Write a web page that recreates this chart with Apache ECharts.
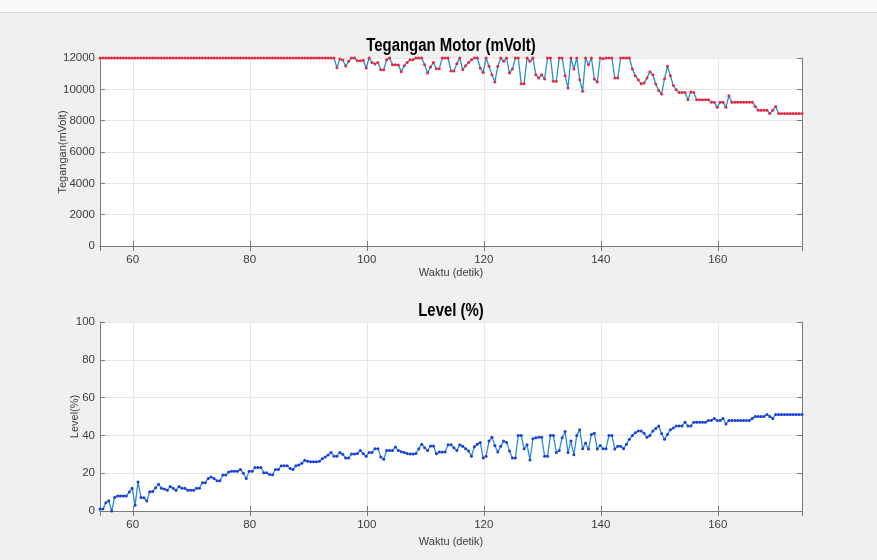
<!DOCTYPE html>
<html>
<head>
<meta charset="utf-8">
<script src="https://cdn.jsdelivr.net/npm/echarts@6/dist/echarts.min.js"></script>
<style>
  html, body { margin: 0; padding: 0; background: #f0f0f0; }
  #chartDiv { width: 877px; height: 560px; }
</style>
</head>
<body>
<div id="chartDiv"></div>
<script>
// sampling: one reading every 0.5 s
const startTime = 54.4;
const stepTime = 0.5;

// Tegangan Motor (mVolt)
const teganganData = [
    12000, 12000, 12000, 12000, 12000, 12000, 12000, 12000, 12000, 12000,
    12000, 12000, 12000, 12000, 12000, 12000, 12000, 12000, 12000, 12000,
    12000, 12000, 12000, 12000, 12000, 12000, 12000, 12000, 12000, 12000,
    12000, 12000, 12000, 12000, 12000, 12000, 12000, 12000, 12000, 12000,
    12000, 12000, 12000, 12000, 12000, 12000, 12000, 12000, 12000, 12000,
    12000, 12000, 12000, 12000, 12000, 12000, 12000, 12000, 12000, 12000,
    12000, 12000, 12000, 12000, 12000, 12000, 12000, 12000, 12000, 12000,
    12000, 12000, 12000, 12000, 12000, 12000, 12000, 12000, 12000, 12000,
    12000, 11380, 11940, 11870, 11490, 11790, 12000, 12000, 11830, 11830,
    11850, 11360, 12000, 11720, 11620, 11720, 11250, 11250, 11890, 12000,
    11570, 11570, 11550, 11130, 11510, 11720, 11890, 11890, 12000, 12000,
    12000, 11570, 11040, 11420, 11720, 11320, 11320, 12000, 12000, 12000,
    11170, 11170, 11640, 12000, 11250, 11510, 11720, 11890, 12000, 12000,
    11360, 11080, 12000, 11470, 10930, 10470, 11470, 12000, 11790, 12000,
    11040, 11300, 12000, 12000, 10360, 10360, 12000, 11790, 12000, 10930,
    10720, 10930, 10660, 12000, 12000, 10510, 10510, 12000, 12000, 10870,
    10080, 12000, 11300, 12000, 10610, 9870, 12000, 11570, 12000, 10660,
    10470, 12000, 11960, 12000, 12000, 12000, 10720, 10720, 12000, 12000,
    12000, 12000, 11300, 10870, 10610, 10360, 10400, 10720, 11130, 10930,
    10340, 9930, 9700, 10680, 11470, 10870, 10250, 9970, 9790, 9800,
    9800, 9340, 9830, 9800, 9340, 9340, 9340, 9340, 9340, 9180,
    9180, 8850, 9180, 9180, 8850, 9590, 9180, 9180, 9180, 9180,
    9180, 9180, 9180, 9180, 8910, 8670, 8670, 8670, 8670, 8450,
    8670, 8910, 8450, 8450, 8450, 8450, 8450, 8450, 8450, 8450,
    8450
];

// Level (%)
const levelData = [
    1, 1, 4.4, 5.4, 0, 7.2, 8, 8, 8, 8,
    10, 12, 3, 15.4, 7.2, 7, 5.3, 10.2, 10.3, 12.3,
    14.2, 12.1, 11.6, 11, 13, 12, 11, 13, 12, 12,
    11, 11, 11, 12, 12, 15, 15, 17.2, 18, 17.2,
    16, 16, 19, 19, 20.7, 21, 21, 21, 22, 20,
    17.2, 21, 21, 23, 23, 23, 20.3, 20.2, 19.3, 19.2,
    22, 22, 24, 24, 24, 22.5, 22, 24, 24.3, 25.3,
    26.8, 26.3, 26, 26, 26, 26.3, 27.7, 28.6, 29.6, 31,
    29, 29, 31, 30, 28, 28, 30.2, 30.2, 30.4, 32,
    30.3, 29, 31, 31, 33, 33, 28.6, 27.4, 32, 32,
    32, 33.9, 32, 31.4, 31, 30.4, 30.2, 30.2, 30.4, 33,
    35.3, 33.5, 32, 34.4, 34.4, 30.3, 31.2, 31.2, 31.2, 35,
    35, 33.5, 32, 35, 34.2, 33, 31.8, 29, 34, 35.3,
    36.3, 28, 29, 37, 39, 34.6, 31.2, 34.2, 37, 36.3,
    31.8, 28, 28, 40, 40, 33, 35, 27, 38.2, 38.8,
    39, 39, 29, 29, 40, 40, 31, 32, 38.8, 42,
    31, 37, 29.8, 40, 43, 33, 36, 32.8, 40.5, 41.2,
    32.8, 34.6, 33, 33, 40, 40, 32.8, 34.2, 34.2, 33,
    35.3, 38, 40, 41.4, 42.3, 42.3, 41.2, 39, 40, 42.3,
    43.7, 45, 41, 38, 40.5, 43, 43.9, 45, 45, 45,
    47, 45, 45, 47, 47, 47, 47, 47, 47.9, 47.9,
    49, 47.9, 47.9, 49, 46, 47.9, 47.9, 47.9, 47.9, 47.9,
    47.9, 47.9, 47.9, 49, 50, 50, 50, 50, 51, 50,
    49, 51, 51, 51, 51, 51, 51, 51, 51, 51,
    51
];

const xTitle = "Waktu (detik)";
const topTitle = "Tegangan Motor (mVolt)";
const bottomTitle = "Level (%)";

function withTime(values) {
    return values.map(function (v, i) {
        return [startTime + i * stepTime, v];
    });
}

const fontName = "'Liberation Sans', Arial, sans-serif";
const boxColor = "#7a7a7a";
const labelColor = "#3c3c3c";

function mainX(gridIndex, gap) {
    return {
        type: "value",
        gridIndex: gridIndex,
        min: startTime,
        max: 174.4,
        splitNumber: 5,
        name: xTitle,
        nameLocation: "middle",
        nameGap: gap,
        nameMoveOverlap: false,
        nameTextStyle: { color: labelColor, fontSize: 11, fontFamily: fontName },
        axisLine: { lineStyle: { color: boxColor } },
        axisTick: { inside: true, length: 5, lineStyle: { color: boxColor } },
        axisLabel: {
            color: labelColor, fontSize: 11.5, fontFamily: fontName, margin: 8,
            showMinLabel: false, showMaxLabel: false
        },
        splitLine: { lineStyle: { color: "#e6e6e6" } }
    };
}

function boxX(gridIndex) {
    return {
        type: "value",
        gridIndex: gridIndex,
        position: "top",
        min: startTime,
        max: 174.4,
        splitNumber: 5,
        axisLine: { lineStyle: { color: boxColor } },
        axisTick: { inside: true, length: 5, lineStyle: { color: boxColor } },
        axisLabel: { show: false },
        splitLine: { show: false }
    };
}

function mainY(gridIndex, max, interval, name, gap) {
    return {
        type: "value",
        gridIndex: gridIndex,
        min: 0,
        max: max,
        interval: interval,
        name: name,
        nameLocation: "middle",
        nameGap: gap,
        nameMoveOverlap: false,
        nameTextStyle: { color: labelColor, fontSize: 11, fontFamily: fontName },
        axisLine: { show: true, lineStyle: { color: boxColor } },
        axisTick: { show: true, inside: true, length: 5, lineStyle: { color: boxColor } },
        axisLabel: {
            color: labelColor, fontSize: 11.5, fontFamily: fontName, margin: 5,
            formatter: function (v) { return String(v); }
        },
        splitLine: { lineStyle: { color: "#e6e6e6" } }
    };
}

function boxY(gridIndex, max, interval) {
    return {
        type: "value",
        gridIndex: gridIndex,
        position: "right",
        min: 0,
        max: max,
        interval: interval,
        axisLine: { show: true, lineStyle: { color: boxColor } },
        axisTick: { show: true, inside: true, length: 5, lineStyle: { color: boxColor } },
        axisLabel: { show: false },
        splitLine: { show: false }
    };
}

function titleText(text, y) {
    return {
        type: "text",
        x: 451,
        y: y,
        scaleX: 0.83,
        z: 10,
        style: {
            text: text,
            fill: "#000",
            font: "bold 18px 'Liberation Sans', Arial, sans-serif",
            textAlign: "center",
            textVerticalAlign: "middle"
        }
    };
}

let chart = echarts.init(document.getElementById("chartDiv"));
chart.setOption({
    animation: false,
    backgroundColor: "#f0f0f0",
    graphic: [
        { type: "rect", shape: { x: 0, y: 0, width: 877, height: 12 }, style: { fill: "#fafafa" } },
        { type: "line", shape: { x1: 0, y1: 12.5, x2: 877, y2: 12.5 }, style: { stroke: "#d4d4d4", lineWidth: 1 } },
        titleText(topTitle, 46),
        titleText(bottomTitle, 311)
    ],
    grid: [
        { left: 100, top: 58, width: 702, height: 188, show: true, backgroundColor: "#ffffff", borderWidth: 0 },
        { left: 100, top: 322, width: 702, height: 189, show: true, backgroundColor: "#ffffff", borderWidth: 0 }
    ],
    xAxis: [mainX(0, 21), boxX(0), mainX(1, 25), boxX(1)],
    yAxis: [
        mainY(0, 12000, 2000, "Tegangan(mVolt)", 32),
        boxY(0, 12000, 2000),
        mainY(1, 100, 20, "Level(%)", 20),
        boxY(1, 100, 20)
    ],
    series: [
        {
            name: topTitle,
            type: "line",
            xAxisIndex: 0,
            yAxisIndex: 0,
            data: withTime(teganganData),
            showAllSymbol: true,
            symbol: "circle",
            symbolSize: 3,
            lineStyle: { color: "#2c8fcb", width: 1.3 },
            itemStyle: { color: "#e8283e" }
        },
        {
            name: bottomTitle,
            type: "line",
            xAxisIndex: 2,
            yAxisIndex: 2,
            data: withTime(levelData),
            showAllSymbol: true,
            symbol: "circle",
            symbolSize: 3,
            lineStyle: { color: "#3189d6", width: 1.3 },
            itemStyle: { color: "#1b3fd8" }
        }
    ]
});
</script>
</body>
</html>
